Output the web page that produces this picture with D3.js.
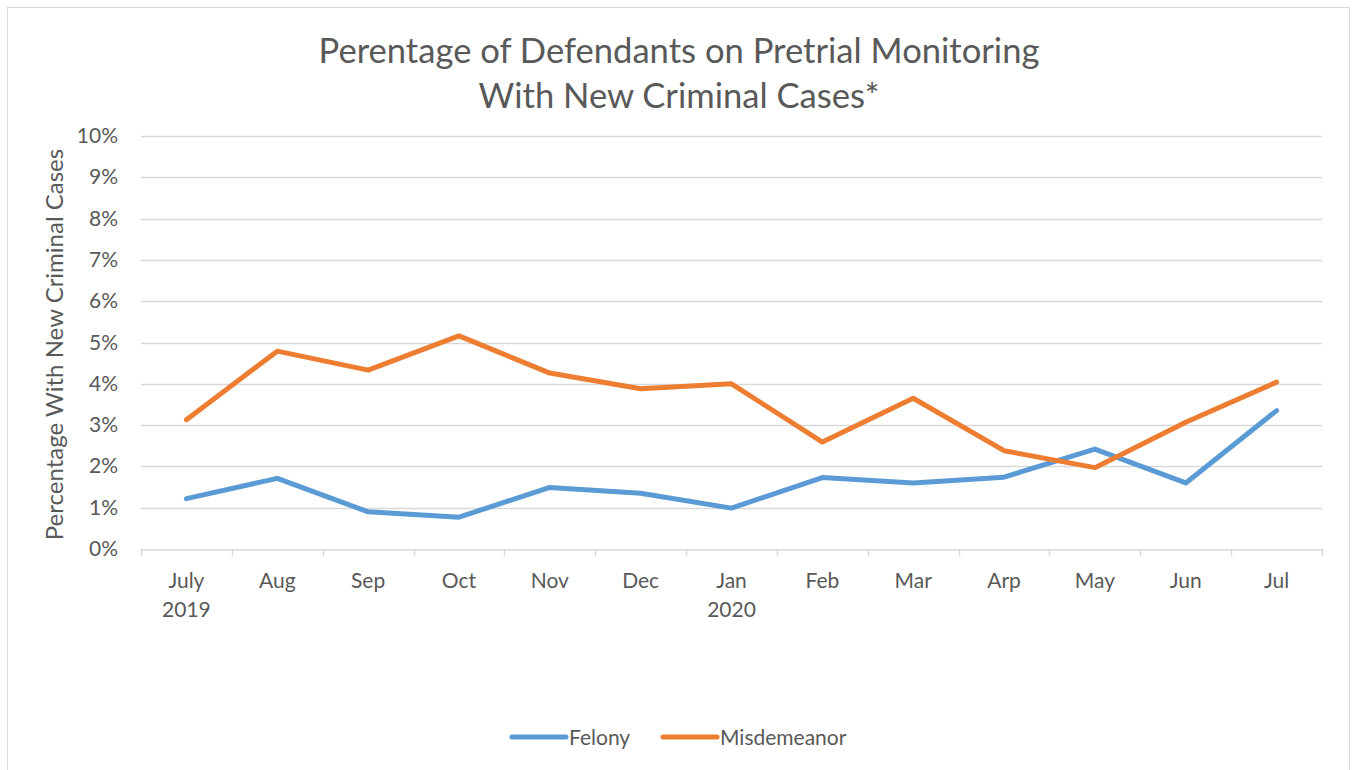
<!DOCTYPE html>
<html>
<head>
<meta charset="utf-8">
<script src="https://cdn.jsdelivr.net/npm/d3@7"></script>
<style>
  body { margin: 0; background: #fff; }
  text { font-family: Lato, "Open Sans", sans-serif; fill: #595959; }
</style>
</head>
<body>
<svg id="chart" width="1353" height="770"></svg>
<script>
// data
var months = ["July|2019", "Aug", "Sep", "Oct", "Nov", "Dec", "Jan|2020", "Feb", "Mar", "Arp", "May", "Jun", "Jul"]
var felony = [1.22, 1.71, 0.90, 0.77, 1.49, 1.35, 0.99, 1.73, 1.60, 1.74, 2.42, 1.60, 3.35]
var misdemeanor = [3.13, 4.79, 4.33, 5.16, 4.26, 3.88, 4.00, 2.59, 3.65, 2.38, 1.97, 3.07, 4.04]
var yTicks = [0, 1, 2, 3, 4, 5, 6, 7, 8, 9, 10]
var seriesNames = ["Felony", "Misdemeanor"]
var seriesColors = ["#5b9bd5", "#ed7d31"]

var svg = d3.select("#chart")

// outer frame
svg.append("rect").attr("x", 7.5).attr("y", 7.5).attr("width", 1342).attr("height", 780)
    .style("fill", "none").style("stroke", "#d9d9d9").style("stroke-width", 1)

var plotLeft = 141, plotRight = 1322, plotTop = 136, plotBottom = 549

var x = d3.scaleBand().domain(months).range([plotLeft, plotRight])
var y = d3.scaleLinear().domain([0, 10]).range([plotBottom, plotTop])

// title
var title = svg.append("text").attr("text-anchor", "middle").style("font-size", "34.6px")
title.append("tspan").attr("x", 679).attr("y", 63).text("Perentage of Defendants on Pretrial Monitoring")
title.append("tspan").attr("x", 679).attr("y", 108).text("With New Criminal Cases*")

// gridlines
svg.append("g").selectAll("line").data(yTicks.filter(d => d > 0)).enter().append("line")
    .attr("x1", plotLeft).attr("x2", plotRight)
    .attr("y1", d => Math.round(y(d)) + 0.5).attr("y2", d => Math.round(y(d)) + 0.5)
    .style("stroke", "#d9d9d9").style("stroke-width", 1.5)

// y axis labels
svg.append("g").selectAll("text").data(yTicks).enter().append("text")
    .attr("x", 118).attr("y", d => y(d) + 7)
    .attr("text-anchor", "end").style("font-size", "21px")
    .text(d => d + "%")

// x axis line and ticks
var xAxis = d3.axisBottom(x).tickSize(0).tickFormat("")
var gx = svg.append("g").attr("transform", "translate(0," + (plotBottom + 0.5) + ")").call(xAxis)
gx.select(".domain").style("stroke", "#d9d9d9").style("stroke-width", 1.5)
var bounds = months.map(m => x(m)).concat([plotRight])
svg.append("g").selectAll("line").data(bounds).enter().append("line")
    .attr("x1", d => Math.round(d) + 0.5).attr("x2", d => Math.round(d) + 0.5)
    .attr("y1", plotBottom).attr("y2", plotBottom + 7)
    .style("stroke", "#d9d9d9").style("stroke-width", 1.5)

// x labels (two lines where needed)
var xl = svg.append("g").selectAll("text").data(months).enter().append("text")
    .attr("text-anchor", "middle").style("font-size", "21px")
xl.each(function(d) {
    var parts = d.split("|")
    var t = d3.select(this)
    parts.forEach(function(p, i) {
        t.append("tspan").attr("x", x(d) + x.bandwidth() / 2).attr("y", 588 + i * 29).text(p)
    })
})

// y axis title
svg.append("text").attr("transform", "translate(63," + ((plotBottom + plotTop) / 2 + 2) + ") rotate(-90)")
    .attr("text-anchor", "middle").style("font-size", "24px")
    .text("Percentage With New Criminal Cases")

// lines
var line = d3.line().x((d, i) => x(months[i]) + x.bandwidth() / 2).y(d => y(d))
;[felony, misdemeanor].forEach(function(s, i) {
    svg.append("path").datum(s).attr("d", line)
        .style("fill", "none").style("stroke", seriesColors[i]).style("stroke-width", 5)
        .style("stroke-linecap", "round").style("stroke-linejoin", "round")
})

// legend
var legendX = [512, 663]
seriesNames.forEach(function(n, i) {
    svg.append("line").attr("x1", legendX[i]).attr("x2", legendX[i] + 54).attr("y1", 737).attr("y2", 737)
        .style("stroke", seriesColors[i]).style("stroke-width", 5).style("stroke-linecap", "round")
    svg.append("text").attr("x", legendX[i] + 57).attr("y", 745).style("font-size", "21px").text(n)
})
</script>
</body>
</html>
